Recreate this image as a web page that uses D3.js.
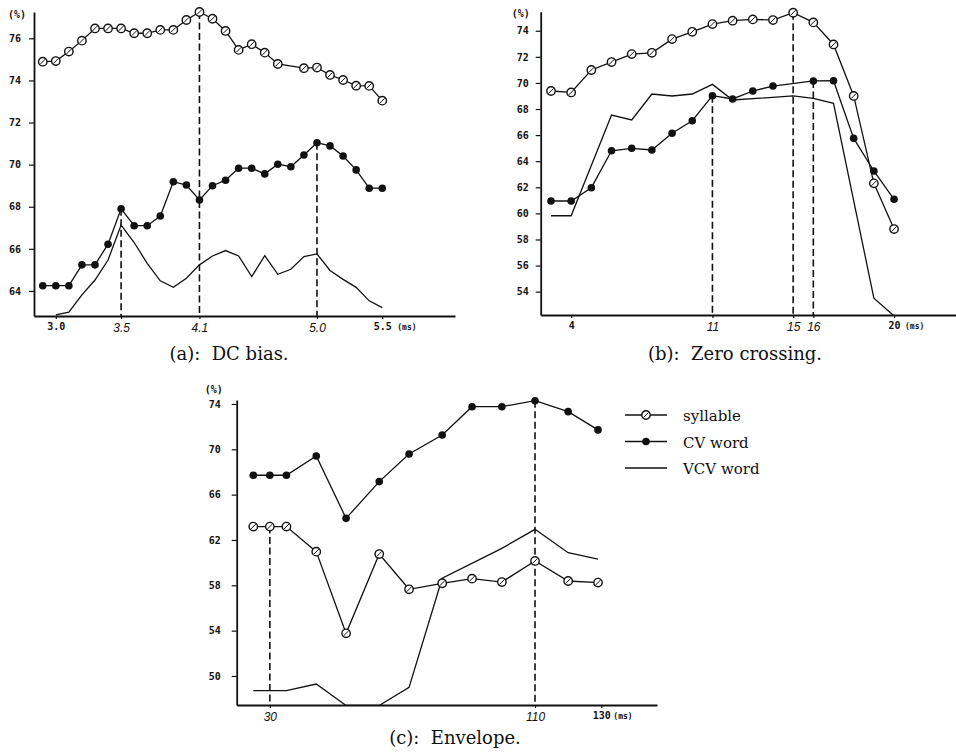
<!DOCTYPE html>
<html>
<head>
<meta charset="utf-8">
<script src="https://cdn.jsdelivr.net/npm/d3@7"></script>
<style>
  body { margin: 0; background: #fff; }
  svg text { fill: #111; }
  .printed { font-family: "DejaVu Sans Mono", monospace; font-weight: bold; font-size: 10px; }
  .hand { font-family: "Liberation Sans", sans-serif; font-style: italic; font-size: 12px; }
  .unit { font-family: "DejaVu Sans Mono", monospace; font-weight: bold; font-size: 8px; }
  .caption { font-family: "DejaVu Serif", serif; font-size: 18px; white-space: pre; }
  .legend { font-family: "DejaVu Serif", serif; font-size: 15px; }
</style>
</head>
<body>
<svg id="chart" width="956" height="752"></svg>
<script>
// (a) DC bias
var dcX = [2.9, 3.0, 3.1, 3.2, 3.3, 3.4, 3.5, 3.6, 3.7, 3.8, 3.9, 4.0, 4.1, 4.2, 4.3, 4.4, 4.5, 4.6, 4.7, 4.8, 4.9, 5.0, 5.1, 5.2, 5.3, 5.4, 5.5];
var dcCV = [64.25, 64.25, 64.25, 65.24, 65.24, 66.22, 67.9, 67.1, 67.1, 67.56, 69.19, 69.03, 68.32, 69.0, 69.26, 69.83, 69.83, 69.56, 70.02, 69.9, 70.46, 71.04, 70.89, 70.41, 69.75, 68.88, 68.88];
var dcSylX = [2.9, 3.0, 3.1, 3.2, 3.3, 3.4, 3.5, 3.6, 3.7, 3.8, 3.9, 4.0, 4.1, 4.2, 4.3, 4.4, 4.5, 4.6, 4.7, 4.9, 5.0, 5.1, 5.2, 5.3, 5.4, 5.5];
var dcSyllable = [74.89, 74.92, 75.37, 75.89, 76.47, 76.47, 76.47, 76.24, 76.24, 76.4, 76.4, 76.87, 77.25, 76.93, 76.35, 75.45, 75.72, 75.32, 74.78, 74.58, 74.61, 74.26, 74.02, 73.75, 73.74, 73.04];
var dcVcvX = [3.0, 3.1, 3.2, 3.3, 3.4, 3.5, 3.6, 3.7, 3.8, 3.9, 4.0, 4.1, 4.2, 4.3, 4.4, 4.5, 4.6, 4.7, 4.8, 4.9, 5.0, 5.1, 5.2, 5.3, 5.4, 5.5];
var dcVCV = [62.86, 62.99, 63.81, 64.52, 65.47, 67.13, 66.3, 65.31, 64.48, 64.17, 64.6, 65.24, 65.66, 65.92, 65.66, 64.68, 65.68, 64.79, 65.03, 65.63, 65.76, 64.97, 64.55, 64.17, 63.53, 63.21];
var dcXTicks = [3.0, 3.5, 4.1, 5.0, 5.5];
var dcYTicks = [64, 66, 68, 70, 72, 74, 76];
var dcDropX = [3.5, 4.1, 5.0];
var dcDropFrom = [67.9, 77.25, 71.04];

// (b) Zero crossing
var zcX = [3, 4, 5, 6, 7, 8, 9, 10, 11, 12, 13, 14, 15, 16, 17, 18, 19, 20];
var zcSyllable = [69.38, 69.27, 70.99, 71.6, 72.21, 72.31, 73.36, 73.92, 74.51, 74.77, 74.87, 74.82, 75.38, 74.64, 72.95, 69.0, 62.3, 58.8];
var zcCvX = [3, 4, 5, 6, 7, 8, 9, 10, 11, 12, 13, 14, 16, 17, 18, 19, 20];
var zcCV = [60.95, 60.95, 61.97, 64.8, 64.99, 64.86, 66.14, 67.1, 69.02, 68.77, 69.38, 69.76, 70.15, 70.17, 65.75, 63.25, 61.08];
var zcVcvX = [3, 4, 6, 7, 8, 9, 10, 11, 12, 15, 16, 17, 19, 20];
var zcVCV = [59.82, 59.82, 67.54, 67.16, 69.15, 69.0, 69.15, 69.89, 68.69, 69.0, 68.82, 68.44, 53.5, 52.14];
var zcXTicks = [4, 11, 15, 16, 20];
var zcYTicks = [54, 56, 58, 60, 62, 64, 66, 68, 70, 72, 74];
var zcDropX = [11, 15, 16];
var zcDropFrom = [69.02, 75.38, 70.15];

// (c) Envelope
var envX = [25, 30, 35, 44, 53, 63, 72, 82, 91, 100, 110, 120, 129];
var envSyllable = [63.18, 63.18, 63.18, 60.97, 53.76, 60.76, 57.65, 58.18, 58.59, 58.29, 60.15, 58.38, 58.24];
var envCV = [67.71, 67.71, 67.71, 69.41, 63.91, 67.15, 69.59, 71.26, 73.76, 73.76, 74.29, 73.32, 71.71];
var envVcvX = [25, 35, 44, 53, 63, 72, 82, 100, 110, 120, 129];
var envVCV = [48.7, 48.7, 49.29, 47.4, 47.4, 49.0, 58.62, 61.26, 62.94, 60.88, 60.32];
var envXTicks = [30, 110, 130];
var envYTicks = [50, 54, 58, 62, 66, 70, 74];
var envDropX = [30, 110];
var envDropFrom = [63.18, 74.29];

var legendLabels = ['syllable', 'CV word', 'VCV word'];
var captions = ['(a):  DC bias.', '(b):  Zero crossing.', '(c):  Envelope.'];

var ink = '#111';
var svg = d3.select('#chart');

function openMark(g, cx, cy) {
	g.append('circle').attr('cx', cx).attr('cy', cy).attr('r', 4.2)
		.attr('fill', '#fff').attr('stroke', ink).attr('stroke-width', 1.4);
	g.append('line').attr('x1', cx - 2.6).attr('y1', cy + 2.6).attr('x2', cx + 2.6).attr('y2', cy - 2.6)
		.attr('stroke', ink).attr('stroke-width', 1);
}

function drawPanel(p) {
	var x = d3.scaleLinear().domain(p.xDomain).range([p.left, p.right]);
	var y = d3.scaleLinear().domain(p.yDomain).range([p.bottom, p.top]);
	var g = svg.append('g');

	svg.append('clipPath').attr('id', 'clip-' + p.id)
		.append('rect')
		.attr('x', p.left).attr('y', p.top - 8)
		.attr('width', p.right - p.left).attr('height', p.bottom - p.top + 8);

	// dashed drop lines
	p.dropX.forEach(function(v, i) {
		g.append('line')
			.attr('x1', x(v)).attr('x2', x(v))
			.attr('y1', y(p.dropFrom[i])).attr('y2', p.bottom)
			.attr('stroke', ink).attr('stroke-width', 1.6)
			.attr('stroke-dasharray', '7,3.5');
	});

	// axes
	var yAxis = g.append('g').attr('transform', 'translate(' + p.left + ',0)')
		.call(d3.axisLeft(y).tickValues(p.yTicks).tickSize(5).tickPadding(p.yPad).tickSizeOuter(0));
	yAxis.selectAll('text').attr('class', 'printed').attr('font-family', null).attr('font-size', null);

	var xAxis = g.append('g').attr('transform', 'translate(0,' + p.bottom + ')')
		.call(d3.axisBottom(x).tickValues(p.xTicks).tickFormat(p.fmt).tickSize(3).tickPadding(4).tickSizeOuter(0));
	xAxis.selectAll('text')
		.attr('font-family', null).attr('font-size', null)
		.attr('class', function(d) { return p.dropX.indexOf(d) >= 0 ? 'hand' : 'printed'; });

	[yAxis, xAxis].forEach(function(a) {
		a.select('.domain').attr('stroke', ink).attr('stroke-width', 1.8);
		a.selectAll('.tick line').attr('stroke', ink).attr('stroke-width', 1.2);
	});

	g.append('text').attr('class', 'printed').attr('font-size', '9px')
		.attr('text-anchor', 'end')
		.attr('x', p.left - p.pctGap).attr('y', p.pctY)
		.text('(%)');

	var last = p.xTicks[p.xTicks.length - 1];
	g.append('text').attr('class', 'unit')
		.attr('x', x(last) + p.msGap).attr('y', p.bottom + 14)
		.text('(ms)');

	// series
	var line = d3.line().x(function(d) { return x(d[0]); }).y(function(d) { return y(d[1]); });
	var plot = g.append('g').attr('clip-path', 'url(#clip-' + p.id + ')');
	p.series.forEach(function(s) {
		plot.append('path').datum(d3.zip(s.x, s.y))
			.attr('d', line).attr('fill', 'none')
			.attr('stroke', ink).attr('stroke-width', 1.3);
	});
	p.series.forEach(function(s) {
		if (s.mark === 'none') return;
		d3.zip(s.x, s.y).forEach(function(d) {
			if (s.mark === 'open') openMark(g, x(d[0]), y(d[1]));
			else g.append('circle').attr('cx', x(d[0])).attr('cy', y(d[1])).attr('r', 3.8).attr('fill', ink);
		});
	});

	svg.append('text').attr('class', 'caption')
		.attr('text-anchor', 'middle')
		.attr('x', p.capX).attr('y', p.capY)
		.text(p.caption);
}

drawPanel({
	id: 'a', left: 34, right: 455, top: 12, bottom: 316,
	xDomain: [2.833, 6.057], yDomain: [62.81, 77.25],
	xTicks: dcXTicks, yTicks: dcYTicks, fmt: d3.format('.1f'), yPad: 8,
	dropX: dcDropX, dropFrom: dcDropFrom,
	pctGap: 8, pctY: 18, msGap: 15,
	series: [
		{ x: dcVcvX, y: dcVCV, mark: 'none' },
		{ x: dcX, y: dcCV, mark: 'filled' },
		{ x: dcSylX, y: dcSyllable, mark: 'open' }
	],
	caption: captions[0], capX: 229, capY: 360
});

drawPanel({
	id: 'b', left: 540.7, right: 956, top: 11.7, bottom: 315,
	xDomain: [2.49, 23.07], yDomain: [52.21, 75.46],
	xTicks: zcXTicks, yTicks: zcYTicks, fmt: d3.format('d'), yPad: 7,
	dropX: zcDropX, dropFrom: zcDropFrom,
	pctGap: 11, pctY: 17, msGap: 11,
	series: [
		{ x: zcVcvX, y: zcVCV, mark: 'none' },
		{ x: zcCvX, y: zcCV, mark: 'filled' },
		{ x: zcX, y: zcSyllable, mark: 'open' }
	],
	caption: captions[1], capX: 735, capY: 360
});

drawPanel({
	id: 'c', left: 236.7, right: 657, top: 400, bottom: 705,
	xDomain: [20, 146.8], yDomain: [47.44, 74.35],
	xTicks: envXTicks, yTicks: envYTicks, fmt: d3.format('d'), yPad: 11,
	dropX: envDropX, dropFrom: envDropFrom,
	pctGap: 14, pctY: 393, msGap: 12,
	series: [
		{ x: envVcvX, y: envVCV, mark: 'none' },
		{ x: envX, y: envCV, mark: 'filled' },
		{ x: envX, y: envSyllable, mark: 'open' }
	],
	caption: captions[2], capX: 455, capY: 744
});

// legend
var legend = svg.append('g').attr('transform', 'translate(625,415)');
legendLabels.forEach(function(label, i) {
	var row = legend.append('g').attr('transform', 'translate(0,' + (i * 26.5) + ')');
	row.append('line').attr('x1', 0).attr('x2', 42).attr('y1', 0).attr('y2', 0)
		.attr('stroke', ink).attr('stroke-width', i === 2 ? 1.3 : 1.6);
	if (i === 0) openMark(row, 21, 0);
	if (i === 1) row.append('circle').attr('cx', 21).attr('cy', 0).attr('r', 3.8).attr('fill', ink);
	row.append('text').attr('class', 'legend').attr('x', 58).attr('y', 6).text(label);
});
</script>
</body>
</html>
